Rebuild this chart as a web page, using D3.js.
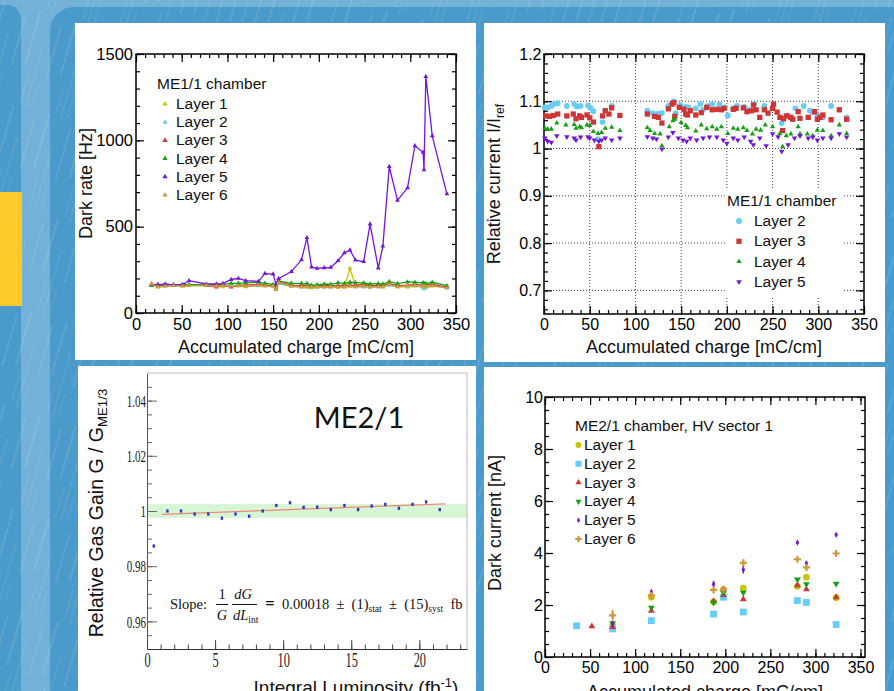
<!DOCTYPE html>
<html>
<head>
<meta charset="utf-8">
<script src="https://cdn.jsdelivr.net/npm/d3@7"></script>
<style>
  body { margin: 0; background: #4a9bcb; overflow: hidden; }
</style>
</head>
<body>
<svg id="c" width="894" height="691"></svg>
<script>
// ---------- data: top-left, dark rate vs accumulated charge (ME1/1) ----------
var rateCharge = [17, 24, 32, 41, 51, 58, 77, 88, 95, 104, 112, 120, 134, 141, 150, 153, 156, 170, 181, 187, 192, 198, 206, 213, 221, 228, 234, 240, 249, 256, 265, 270, 277, 286, 297, 305, 314, 315, 317, 324, 340];
var rateL1 = [170, 150, 155, 158, 155, 158, 160, 155, 152, 158, 155, 152, 158, 160, 155, 140, 170, 155, 152, 150, 145, 148, 152, 150, 148, 150, 258, 160, 170, 152, 155, 150, 165, 152, 150, 155, 150, 148, 145, 155, 148];
var rateL2 = [160, 158, 160, 158, 160, 160, 158, 160, 158, 160, 158, 160, 158, 160, 155, 145, 172, 155, 152, 150, 152, 150, 152, 150, 155, 152, 155, 152, 150, 150, 152, 155, 160, 155, 155, 158, 150, 140, 148, 160, 145];
var rateL3 = [165, 165, 163, 162, 160, 162, 158, 150, 160, 150, 160, 162, 165, 160, 158, 148, 178, 162, 160, 158, 155, 158, 160, 158, 158, 160, 162, 160, 165, 160, 158, 160, 170, 158, 162, 165, 160, 158, 162, 165, 150];
var rateL4 = [158, 160, 162, 160, 163, 165, 163, 165, 166, 172, 172, 175, 178, 172, 165, 160, 185, 172, 172, 170, 160, 163, 168, 166, 175, 172, 178, 176, 174, 168, 170, 168, 182, 170, 180, 178, 175, 172, 170, 178, 158];
var rateL5 = [164, 163, 168, 163, 165, 187, 168, 168, 170, 194, 200, 187, 183, 228, 225, 168, 199, 240, 308, 436, 266, 258, 262, 264, 303, 349, 364, 306, 297, 515, 260, 387, 848, 652, 725, 968, 931, 829, 1369, 1026, 690];
var rateL6 = [168, 152, 155, 158, 155, 158, 160, 155, 158, 155, 158, 155, 160, 155, 155, 135, 175, 155, 150, 152, 148, 152, 150, 152, 150, 152, 155, 152, 155, 150, 152, 152, 165, 152, 158, 160, 155, 152, 155, 158, 145];

// ---------- data: top-right, relative current ----------
var relX2 = [1, 4, 8, 11, 15, 25, 33, 36, 40, 48, 51, 54, 59, 64, 67, 74, 113, 119, 125, 129, 136, 142, 144, 149, 155, 158, 166, 171, 174, 179, 184, 192, 198, 201, 207, 211, 219, 223, 230, 241, 250, 260, 267, 275, 284, 291, 294, 299, 305, 314, 331];
var relI2 = [1.087, 1.087, 1.09, 1.094, 1.096, 1.09, 1.094, 1.089, 1.09, 1.091, 1.086, 1.079, 1.02, 1.056, 1.08, 1.09, 1.08, 1.075, 1.074, 1.075, 1.09, 1.1, 1.075, 1.092, 1.088, 1.087, 1.085, 1.094, 1.082, 1.09, 1.094, 1.093, 1.087, 1.07, 1.085, 1.09, 1.088, 1.082, 1.094, 1.09, 1.085, 1.054, 1.07, 1.085, 1.09, 1.08, 1.077, 1.07, 1.066, 1.09, 1.066];
var relX3 = [2, 6, 10, 15, 25, 32, 35, 39, 41, 47, 50, 54, 60, 64, 67, 71, 74, 83, 113, 121, 125, 129, 136, 140, 142, 143, 148, 153, 155, 157, 160, 166, 172, 178, 184, 189, 194, 197, 207, 210, 218, 222, 227, 229, 232, 236, 241, 245, 250, 251, 255, 258, 261, 262, 265, 270, 272, 278, 280, 289, 296, 299, 302, 305, 314, 323, 331];
var relI3 = [1.069, 1.068, 1.07, 1.073, 1.069, 1.073, 1.063, 1.069, 1.066, 1.071, 1.065, 1.056, 1.004, 1.069, 1.08, 1.073, 1.086, 1.07, 1.073, 1.068, 1.066, 1.054, 1.084, 1.094, 1.097, 1.068, 1.087, 1.083, 1.073, 1.071, 1.08, 1.071, 1.076, 1.087, 1.082, 1.083, 1.082, 1.085, 1.083, 1.085, 1.086, 1.078, 1.08, 1.092, 1.082, 1.066, 1.082, 1.075, 1.085, 1.094, 1.077, 1.066, 1.038, 1.063, 1.069, 1.066, 1.062, 1.078, 1.064, 1.066, 1.078, 1.062, 1.066, 1.071, 1.061, 1.082, 1.062];
var relX4 = [1, 4, 8, 14, 24, 33, 35, 39, 41, 47, 50, 54, 59, 63, 67, 74, 83, 113, 116, 121, 127, 129, 137, 141, 143, 150, 155, 157, 166, 172, 178, 184, 189, 194, 201, 207, 212, 218, 222, 228, 232, 237, 242, 250, 258, 261, 265, 270, 278, 280, 288, 294, 299, 305, 314, 323, 331];
var relI4 = [1.043, 1.041, 1.041, 1.054, 1.05, 1.051, 1.043, 1.046, 1.044, 1.05, 1.049, 1.036, 1.032, 1.034, 1.043, 1.045, 1.038, 1.044, 1.038, 1.032, 1.031, 1.006, 1.046, 1.059, 1.062, 1.055, 1.049, 1.044, 1.037, 1.05, 1.042, 1.046, 1.041, 1.046, 1.032, 1.043, 1.041, 1.044, 1.038, 1.031, 1.041, 1.039, 1.05, 1.046, 1.032, 1.004, 1.027, 1.031, 1.046, 1.031, 1.031, 1.027, 1.039, 1.038, 1.027, 1.05, 1.032];
var relX5 = [1, 4, 8, 14, 25, 33, 35, 40, 48, 50, 55, 60, 63, 67, 74, 83, 113, 119, 123, 129, 136, 141, 147, 152, 156, 160, 167, 174, 181, 189, 196, 200, 207, 212, 219, 226, 229, 236, 243, 250, 256, 260, 267, 274, 280, 289, 294, 299, 305, 314, 323, 331];
var relI5 = [1.022, 1.015, 1.013, 1.027, 1.025, 1.022, 1.018, 1.024, 1.025, 1.022, 1.018, 1.015, 1.018, 1.022, 1.018, 1.022, 1.025, 1.022, 1.02, 0.999, 1.024, 1.034, 1.022, 1.018, 1.015, 1.022, 1.018, 1.022, 1.024, 1.024, 1.018, 1.011, 1.022, 1.018, 1.024, 1.015, 1.008, 1.022, 1.006, 1.031, 1.025, 0.994, 1.008, 1.022, 1.027, 1.022, 1.024, 1.018, 1.022, 1.022, 1.031, 1.024];

// ---------- data: bottom-left, relative gas gain vs luminosity (ME2/1) ----------
var lumi = [0.5, 1.5, 2.5, 3.5, 4.5, 5.5, 6.5, 7.5, 8.5, 9.5, 10.5, 11.5, 12.5, 13.5, 14.5, 15.5, 16.5, 17.5, 18.5, 19.5, 20.5, 21.5];
var gain = [0.9873, 1.0, 1.0, 0.9989, 0.9989, 0.9974, 0.9989, 0.9981, 1.0, 1.002, 1.003, 1.0013, 1.0014, 1.0005, 1.002, 1.0005, 1.0018, 1.0024, 1.001, 1.0024, 1.0033, 1.0005];
var fitLumi = [1.1, 21.9];
var fitGain = [0.9988, 1.0026];
var gainBand = [0.9975, 1.0025];

// ---------- data: bottom-right, dark current (ME2/1, HV sector 1) ----------
var curCharge = [35, 52, 75, 118, 187, 198, 220, 280, 290, 323];
var curL1 = [null, null, 1.2, 2.3, 2.12, 2.6, 2.65, 2.72, 3.07, 2.28];
var curL2 = [1.2, null, 1.08, 1.4, 1.65, 2.3, 1.73, 2.17, 2.1, 1.25];
var curL3 = [null, 1.18, 1.15, 1.78, 2.15, 2.38, 2.22, 2.76, 2.6, 2.3];
var curL4 = [null, null, 1.3, 1.9, 2.1, 2.47, 2.48, 2.98, 2.8, 2.82];
var curL5 = [null, null, 1.27, 2.5, 2.8, 2.6, 3.36, 4.4, 3.6, 4.7];
var curL6 = [null, null, 1.6, 2.37, 2.58, 2.6, 3.62, 3.76, 3.45, 3.98];
var errL5 = [0, 0, 0.12, 0.1, 0.12, 0.08, 0.15, 0.06, 0.08, 0.06];
var errL6 = [0, 0, 0.22, 0.12, 0.08, 0.08, 0.12, 0.08, 0.12, 0.08];

var layerNames = ["Layer 1", "Layer 2", "Layer 3", "Layer 4", "Layer 5", "Layer 6"];
var layerColors = ["#cdc400", "#66ccf8", "#d03535", "#16a016", "#7316dc", "#cf9a3e"];

var SANS = "'Liberation Sans', Arial, Helvetica, sans-serif";
var SERIF = "'Liberation Serif', 'Times New Roman', serif";

var svg = d3.select("#c");

// ---------- background ----------
var defs = svg.append("defs");
var pat = defs.append("pattern").attr("id", "streaks")
  .attr("patternUnits", "userSpaceOnUse").attr("width", 37).attr("height", 97)
  .attr("patternTransform", "rotate(16)");
pat.selectAll("line")
  .data([[5, 0, 5, 55, 0.2], [17, 30, 17, 97, 0.13], [29, 8, 29, 60, 0.17], [11, 62, 11, 92, 0.12], [23, 70, 23, 95, 0.1]])
  .join("line")
  .attr("x1", function(d){return d[0];}).attr("y1", function(d){return d[1];})
  .attr("x2", function(d){return d[2];}).attr("y2", function(d){return d[3];})
  .attr("stroke", "#fff").attr("stroke-opacity", function(d){return d[4];}).attr("stroke-width", 1);

svg.append("rect").attr("width", 894).attr("height", 691).attr("fill", "#74b1d8");
svg.append("rect").attr("x", -40).attr("y", 5).attr("width", 61).attr("height", 720).attr("rx", 14).attr("fill", "#4a9bcb");
svg.append("rect").attr("x", 50).attr("y", 7).attr("width", 900).attr("height", 720).attr("rx", 24).attr("fill", "#4a9bcb");
svg.append("rect").attr("width", 894).attr("height", 691).attr("fill", "url(#streaks)");
svg.append("rect").attr("x", 0).attr("y", 192).attr("width", 22).attr("height", 114).attr("fill", "#fdca2a");

// white panels
[[75, 23, 401, 337], [484, 23, 401, 339], [78, 366, 398, 330], [484, 367, 401, 330]].forEach(function(p){
  svg.append("rect").attr("x", p[0]).attr("y", p[1]).attr("width", p[2]).attr("height", p[3]).attr("fill", "#fff");
});

// ---------- helpers ----------
function symPath(kind, size){
  if(kind === "cross"){ return "M" + (-size) + ",0H" + size + "M0," + (-size) + "V" + size; }
  var t = {tri: d3.symbolTriangle, tridown: d3.symbolTriangle, circle: d3.symbolCircle,
           square: d3.symbolSquare, diamond: d3.symbolDiamond}[kind];
  return d3.symbol(t, size)();
}
function drawMarks(g, pts, kind, size, color){
  g.append("g").selectAll("path").data(pts).join("path")
    .attr("d", symPath(kind, size))
    .attr("transform", function(d){ return "translate(" + d[0] + "," + d[1] + ")" + (kind === "tridown" ? " rotate(180)" : ""); })
    .attr("fill", kind === "cross" ? "none" : color)
    .attr("stroke", kind === "cross" ? color : "none")
    .attr("stroke-width", 2.2);
}

// ROOT-like frame: inward ticks on all four sides, labels left/bottom
function rootAxes(g, x, y, o){
  var xr = x.range(), yr = y.range();
  var x0 = xr[0], x1 = xr[1], y0 = yr[0], y1 = yr[1];
  if(o.grid){
    g.append("g").selectAll("line").data(o.xMajor.filter(function(v){return v > x.domain()[0] && v < x.domain()[1];}))
      .join("line").attr("x1", function(d){return x(d);}).attr("x2", function(d){return x(d);})
      .attr("y1", y0).attr("y2", y1)
      .attr("stroke", "#444").attr("stroke-dasharray", "1,2");
    g.append("g").selectAll("line").data(o.yMajor.filter(function(v){return v > y.domain()[0] + 1e-9 && v < y.domain()[1] - 1e-9;}))
      .join("line").attr("y1", function(d){return y(d);}).attr("y2", function(d){return y(d);})
      .attr("x1", x0).attr("x2", x1)
      .attr("stroke", "#444").attr("stroke-dasharray", "1,2");
  }
  function ax(gen, tx, ty, vals, size, fmt, pad){
    var a = g.append("g").attr("transform", "translate(" + tx + "," + ty + ")")
      .call(gen.tickValues(vals).tickSize(size).tickSizeOuter(0).tickPadding(pad).tickFormat(fmt));
    a.select(".domain").remove();
    a.selectAll("line").attr("stroke", "#000").attr("stroke-width", 1.2);
    a.selectAll("text").attr("font-family", SANS).attr("font-size", o.fs).attr("fill", "#000");
    return a;
  }
  var none = function(){ return ""; };
  ax(d3.axisBottom(x), 0, y0, o.xMinor, -4, none, 0);
  ax(d3.axisBottom(x), 0, y0, o.xMajor, -8, o.xFmt, o.xPad);
  ax(d3.axisTop(x), 0, y1, o.xMinor, -4, none, 0);
  ax(d3.axisTop(x), 0, y1, o.xMajor, -8, none, 0);
  ax(d3.axisLeft(y), x0, 0, o.yMinor, -4, none, 0);
  ax(d3.axisLeft(y), x0, 0, o.yMajor, -8, o.yFmt, o.yPad);
  ax(d3.axisRight(y), x1, 0, o.yMinor, -4, none, 0);
  ax(d3.axisRight(y), x1, 0, o.yMajor, -8, none, 0);
  g.append("rect").attr("x", x0).attr("y", y1).attr("width", x1 - x0).attr("height", y0 - y1)
    .attr("fill", "none").attr("stroke", "#000").attr("stroke-width", 1.5);
}
function text(g, x, y, str, size, anchor, family){
  return g.append("text").attr("x", x).attr("y", y).attr("font-family", family || SANS)
    .attr("font-size", size).attr("text-anchor", anchor || "start").attr("fill", "#111").text(str);
}
function yTitle(g, x, y, str, size, sub){
  var t = g.append("text").attr("transform", "translate(" + x + "," + y + ") rotate(-90)")
    .attr("font-family", SANS).attr("font-size", size).attr("text-anchor", "middle").attr("fill", "#111");
  t.append("tspan").text(str);
  if(sub){ t.append("tspan").attr("dy", 4).attr("font-size", size * 0.68).text(sub); }
  return t;
}
function zip(xs, vs, x, y){
  var out = [];
  xs.forEach(function(v, i){ if(vs[i] !== null){ out.push([x(v), y(vs[i]), i]); } });
  return out;
}

// ---------- panel 1: dark rate ----------
(function(){
  var g = svg.append("g");
  var x = d3.scaleLinear().domain([0, 350]).range([136, 456]);
  var y = d3.scaleLinear().domain([0, 1500]).range([313, 54]);
  rootAxes(g, x, y, {
    xMajor: d3.range(0, 351, 50), xMinor: d3.range(0, 351, 10),
    yMajor: d3.range(0, 1501, 500), yMinor: d3.range(0, 1501, 100),
    xFmt: d3.format("d"), yFmt: d3.format("d"), fs: 16.5, xPad: 5, yPad: 3
  });
  var series = [rateL1, rateL2, rateL3, rateL4, rateL5, rateL6];
  var line = d3.line().x(function(d){return d[0];}).y(function(d){return d[1];});
  series.forEach(function(s, k){
    var pts = zip(rateCharge, s, x, y);
    g.append("path").datum(pts).attr("d", line).attr("fill", "none")
      .attr("stroke", layerColors[k]).attr("stroke-width", 1.3);
    drawMarks(g, pts, "tri", 10, layerColors[k]);
  });
  text(g, 157, 89, "ME1/1 chamber", 15.5);
  layerNames.forEach(function(n, k){
    var by = 109 + 18.2 * k;
    drawMarks(g, [[165, by - 5]], "tri", 12, layerColors[k]);
    text(g, 176, by, n, 15.5);
  });
  yTitle(g, 91.5, 183.5, "Dark rate [Hz]", 18);
  text(g, 296, 353, "Accumulated charge [mC/cm]", 18, "middle");
})();

// ---------- panel 2: relative current ----------
(function(){
  var g = svg.append("g");
  var x = d3.scaleLinear().domain([0, 350]).range([544, 864]);
  var y = d3.scaleLinear().domain([0.65, 1.2]).range([314, 54]);
  rootAxes(g, x, y, {
    xMajor: d3.range(0, 351, 50), xMinor: d3.range(0, 351, 10),
    yMajor: [0.7, 0.8, 0.9, 1.0, 1.1, 1.2], yMinor: d3.range(66, 121, 2).map(function(v){return v / 100;}),
    xFmt: d3.format("d"), yFmt: function(d){ return Math.abs(d - 1) < 1e-9 ? "1" : d3.format(".1f")(d); },
    fs: 16, xPad: 4.5, yPad: 2.5, grid: true
  });
  var cfg = [[relX2, relI2, "circle", 26, 1], [relX3, relI3, "square", 28, 2],
             [relX4, relI4, "tri", 12, 3], [relX5, relI5, "tridown", 13, 4]];
  cfg.forEach(function(c){ drawMarks(g, zip(c[0], c[1], x, y), c[2], c[3], layerColors[c[4]]); });
  g.append("rect").attr("x", 725).attr("y", 190).attr("width", 117).attr("height", 108).attr("fill", "#fff");
  text(g, 727, 206, "ME1/1 chamber", 15.5);
  cfg.forEach(function(c, k){
    var by = 226 + 20.3 * k;
    drawMarks(g, [[739, by - 5]], c[2], c[3], layerColors[c[4]]);
    text(g, 754, by, layerNames[c[4]], 15.5);
  });
  yTitle(g, 500, 184, "Relative current I/I", 18, "ref");
  text(g, 704, 353, "Accumulated charge [mC/cm]", 18, "middle");
})();

// ---------- panel 3: relative gas gain ----------
(function(){
  var g = svg.append("g");
  var x = d3.scaleLinear().domain([0, 23.5]).range([147, 467]);
  var y = d3.scaleLinear().domain([0.95, 1.05]).range([649, 373]);
  g.append("rect").attr("x", 147).attr("y", y(gainBand[1])).attr("width", 320)
    .attr("height", y(gainBand[0]) - y(gainBand[1])).attr("fill", "#d8f6d6");
  g.append("path").attr("d", "M147,373H467V649").attr("fill", "none").attr("stroke", "#bbb").attr("stroke-width", 1);
  function squish(sel, k){
    sel.selectAll("text").each(function(){
      var w = this.getComputedTextLength();
      if(w > 0){ d3.select(this).attr("textLength", w * k).attr("lengthAdjust", "spacingAndGlyphs"); }
    });
  }
  var ya = g.append("g").attr("transform", "translate(147,0)")
    .call(d3.axisLeft(y).tickValues([0.96, 0.98, 1.0, 1.02, 1.04]).tickSize(-10).tickSizeOuter(0).tickPadding(1)
      .tickFormat(function(d){ return Math.abs(d - 1) < 1e-9 ? "1" : d3.format(".2f")(d); }));
  ya.selectAll("text").attr("font-family", SERIF).attr("font-size", 17.5).attr("fill", "#222");
  ya.select(".domain").attr("stroke", "#555");
  ya.selectAll("line").attr("stroke", "#666");
  squish(ya, 0.63);
  g.append("g").attr("transform", "translate(147,0)")
    .call(d3.axisLeft(y).tickValues(d3.range(191, 210).map(function(v){return v * 0.005;})).tickSize(-5).tickSizeOuter(0).tickFormat(""))
    .call(function(a){ a.select(".domain").remove(); a.selectAll("line").attr("stroke", "#666"); });
  var xa = g.append("g").attr("transform", "translate(0,649)")
    .call(d3.axisBottom(x).tickValues([0, 5, 10, 15, 20]).tickSize(-9).tickSizeOuter(0).tickPadding(4).tickFormat(d3.format("d")));
  xa.selectAll("text").attr("font-family", SERIF).attr("font-size", 20).attr("fill", "#222");
  xa.select(".domain").attr("stroke", "#333");
  xa.selectAll("line").attr("stroke", "#444");
  squish(xa, 0.62);
  g.append("g").attr("transform", "translate(0,649)")
    .call(d3.axisBottom(x).tickValues(d3.range(0, 24)).tickSize(-4.5).tickSizeOuter(0).tickFormat(""))
    .call(function(a){ a.select(".domain").remove(); a.selectAll("line").attr("stroke", "#444"); });

  g.append("line").attr("x1", x(fitLumi[0])).attr("y1", y(fitGain[0]))
    .attr("x2", x(fitLumi[1])).attr("y2", y(fitGain[1]))
    .attr("stroke", "#ef8a78").attr("stroke-width", 1.3);
  g.append("g").selectAll("rect").data(zip(lumi, gain, x, y)).join("rect")
    .attr("x", function(d){return d[0] - 1.2;}).attr("y", function(d){return d[1] - 1.6;})
    .attr("width", 2.4).attr("height", 3.2).attr("fill", "#2436c8");

  g.append("text").attr("x", 359).attr("y", 428).attr("text-anchor", "middle")
    .attr("font-family", "Lato, 'Open Sans', sans-serif").attr("font-size", 29).attr("fill", "#111").text("ME2/1");

  // slope annotation
  var f = 14.5;
  text(g, 170, 609, "Slope:", f, "start", SERIF);
  text(g, 222, 599, "1", f, "middle", SERIF);
  text(g, 222, 620, "G", f, "middle", SERIF).attr("font-style", "italic");
  g.append("line").attr("x1", 216).attr("x2", 228).attr("y1", 604.5).attr("y2", 604.5).attr("stroke", "#111");
  text(g, 243, 599, "dG", f, "middle", SERIF).attr("font-style", "italic");
  var dl = text(g, 233, 620, "", f, "start", SERIF);
  dl.append("tspan").attr("font-style", "italic").text("dL");
  dl.append("tspan").attr("font-size", 9.5).attr("dy", 3).text("int");
  g.append("line").attr("x1", 232).attr("x2", 257).attr("y1", 604.5).attr("y2", 604.5).attr("stroke", "#111");
  text(g, 270, 609, "=", f + 2, "middle", SERIF).attr("font-weight", "bold");
  var eq = text(g, 282, 609, "", f, "start", SERIF).style("white-space", "pre");
  eq.append("tspan").text("0.00018  \u00b1  (1)");
  eq.append("tspan").attr("font-size", 9.5).attr("dy", 3).text("stat");
  eq.append("tspan").attr("dy", -3).text("  \u00b1  (15)");
  eq.append("tspan").attr("font-size", 9.5).attr("dy", 3).text("syst");
  eq.append("tspan").attr("dy", -3).text("  fb");

  yTitle(g, 103, 513, "Relative Gas Gain G / G", 19.5, "ME1/3");
  var xt = text(g, 356, 694, "", 19, "middle");
  xt.append("tspan").text("Integral Luminosity (fb");
  xt.append("tspan").attr("font-size", 13).attr("dy", -7).text("-1");
  xt.append("tspan").attr("dy", 7).text(")");
})();

// ---------- panel 4: dark current ----------
(function(){
  var g = svg.append("g");
  var x = d3.scaleLinear().domain([0, 355]).range([545, 865]);
  var y = d3.scaleLinear().domain([0, 10]).range([657, 397]);
  rootAxes(g, x, y, {
    xMajor: d3.range(0, 351, 50), xMinor: d3.range(0, 351, 10),
    yMajor: d3.range(0, 11, 2), yMinor: d3.range(0, 10.01, 0.5),
    xFmt: d3.format("d"), yFmt: d3.format("d"), fs: 16, xPad: 5, yPad: 2
  });
  var series = [curL1, curL2, curL3, curL4, curL5, curL6];
  var kinds = [["circle", 36], ["square", 46], ["tri", 20], ["tridown", 20], ["diamond", 11], ["cross", 3.6]];
  var errs = {4: errL5, 5: errL6};
  series.forEach(function(s, k){
    var pts = zip(curCharge, s, x, y);
    if(errs[k]){
      g.append("g").selectAll("line").data(pts).join("line")
        .attr("x1", function(d){return d[0];}).attr("x2", function(d){return d[0];})
        .attr("y1", function(d){return y(s[d[2]] - errs[k][d[2]]);})
        .attr("y2", function(d){return y(s[d[2]] + errs[k][d[2]]);})
        .attr("stroke", layerColors[k]).attr("stroke-width", 1.5);
    }
    drawMarks(g, pts, kinds[k][0], kinds[k][1], layerColors[k]);
  });
  text(g, 575, 431, "ME2/1 chamber, HV sector 1", 15.5);
  layerNames.forEach(function(n, k){
    var by = 450 + 18.8 * k;
    drawMarks(g, [[578.5, by - 5]], kinds[k][0], kinds[k][0] === "cross" ? 3.2 : kinds[k][1] * 0.8, layerColors[k]);
    text(g, 584, by, n, 15.5);
  });
  yTitle(g, 500.5, 523, "Dark current [nA]", 18);
  text(g, 705, 698, "Accumulated charge [mC/cm]", 18, "middle");
})();
</script>
</body>
</html>
